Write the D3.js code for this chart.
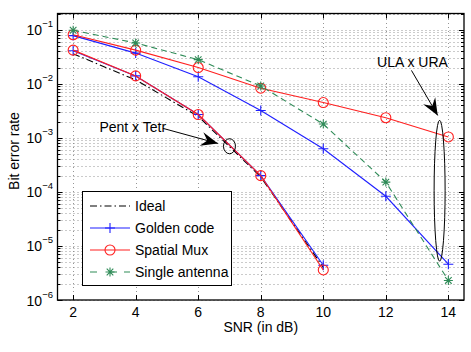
<!DOCTYPE html>
<html>
<head>
<meta charset="utf-8">
<script src="https://cdn.jsdelivr.net/npm/d3@7"></script>
<style>
  body { margin: 0; background: #fff; }
  text { font-family: "Liberation Sans", Arial, sans-serif; fill: #000; }
</style>
</head>
<body>
<svg id="chart"></svg>
<script>
// Chart data
const snr = [2, 4, 6, 8, 10, 12, 14];
const idealBer = [0.036, 0.0118, 0.0025, 0.00019, 4.0e-6];
const goldenUla = [0.078, 0.037, 0.0135, 0.0032, 0.00063, 8.3e-5, 4.6e-6];
const goldenPent = [0.041, 0.014, 0.0027, 0.0002, 4.4e-6];
const muxUla = [0.081, 0.042, 0.020, 0.0083, 0.0045, 0.00236, 0.00104];
const muxPent = [0.042, 0.014, 0.0027, 0.0002, 3.6e-6];
const singleBer = [0.098, 0.057, 0.028, 0.0091, 0.0018, 0.000152, 2.3e-6];

const xTicks = [2, 4, 6, 8, 10, 12, 14];
const yExponents = [-1, -2, -3, -4, -5, -6];
const legendLabels = ["Ideal", "Golden code", "Spatial Mux", "Single antenna"];

// Annotations in data units: ellipse centres, arrow start/tip, label anchor
const pentNote = {text: "Pent x Tetr", tx: 2.84, ty: 1.56e-3, ax0: 4.87, ay0: 1.5e-3, ax1: 6.63, ay1: 7.9e-4, ex: 7.0, ey: 7e-4};
const ulaNote = {text: "ULA x URA", tx: 11.72, ty: 0.0249, ax0: 12.82, ay0: 0.0177, ax1: 13.66, ay1: 0.0026, ex: 13.72, ey: 1.05e-4};

const width = 471, height = 352,
  margin = {top: 13.5, bottom: 52, left: 57.5, right: 7};

const svg = d3.select("#chart").attr("width", width).attr("height", height);

const x = d3.scaleLinear().domain([1.5, 14.5]).range([margin.left, width - margin.right]);
const y = d3.scaleLog().domain([1e-6, 0.2]).range([height - margin.bottom, margin.top]);

const x0 = margin.left, x1 = width - margin.right, y0 = height - margin.bottom, y1 = margin.top;

// Grid
const minorY = [];
yExponents.forEach((e) => { for (let k = 1; k <= 9; k++) { const v = k * Math.pow(10, e); if (v <= 0.2) minorY.push(v); } });
minorY.push(2e-1);
const grid = svg.append("g").attr("stroke", "#8a8a8a").attr("stroke-width", 0.9).attr("stroke-dasharray", "1,3");
grid.selectAll(".gy").data(minorY).enter().append("line")
  .attr("x1", x0).attr("x2", x1).attr("y1", (d) => Math.round(y(d)) + 0.5).attr("y2", (d) => Math.round(y(d)) + 0.5);
grid.selectAll(".gx").data(xTicks).enter().append("line")
  .attr("y1", y0).attr("y2", y1).attr("x1", (d) => Math.round(x(d)) + 0.5).attr("x2", (d) => Math.round(x(d)) + 0.5);

// Tick marks on all four sides (inside)
const ticks = svg.append("g").attr("stroke", "#000").attr("stroke-width", 1);
xTicks.forEach((t) => {
  const px = Math.round(x(t)) + 0.5;
  ticks.append("line").attr("x1", px).attr("x2", px).attr("y1", y0).attr("y2", y0 - 5);
  ticks.append("line").attr("x1", px).attr("x2", px).attr("y1", y1).attr("y2", y1 + 5);
});
minorY.forEach((v) => {
  const py = Math.round(y(v)) + 0.5;
  const major = Math.abs(Math.log10(v) - Math.round(Math.log10(v))) < 1e-9;
  const len = major ? 5 : 3;
  ticks.append("line").attr("x1", x0).attr("x2", x0 + len).attr("y1", py).attr("y2", py);
  ticks.append("line").attr("x1", x1).attr("x2", x1 - len).attr("y1", py).attr("y2", py);
});

// Frame
svg.append("rect").attr("x", x0).attr("y", y1).attr("width", x1 - x0).attr("height", y0 - y1)
  .attr("fill", "none").attr("stroke", "#000").attr("stroke-width", 1.3);

// Tick labels
svg.append("g").selectAll("text").data(xTicks).enter().append("text")
  .attr("x", (d) => x(d)).attr("y", y0 + 16.5).attr("text-anchor", "middle")
  .attr("font-size", 14).text((d) => d);

const yl = svg.append("g").selectAll("text").data(yExponents).enter().append("text")
  .attr("x", 53).attr("y", (d) => y(Math.pow(10, d)) + 5.5).attr("text-anchor", "end")
  .attr("font-size", 14);
yl.append("tspan").text("10");
yl.append("tspan").attr("font-size", 9.5).attr("dy", -8).text((d) => "\u2212" + Math.abs(d));

// Axis titles
svg.append("text").attr("x", (x0 + x1) / 2).attr("y", 332).attr("text-anchor", "middle")
  .attr("font-size", 14).text("SNR (in dB)");
svg.append("text").attr("transform", `translate(19, 151) rotate(-90)`)
  .attr("text-anchor", "middle").attr("font-size", 14).text("Bit error rate");

// Series
const plot = svg.append("g");
const line = d3.line().x((d) => x(d[0])).y((d) => y(d[1]));
const pairs = (vals) => vals.map((v, i) => [snr[i], v]);

const styles = {
  ideal: {color: "#000", dash: "7,3,1.5,3", marker: null},
  golden: {color: "#1f1fff", dash: null, marker: "plus"},
  mux: {color: "#ff2020", dash: null, marker: "circle"},
  single: {color: "#2e8b57", dash: "6,4", marker: "star"}
};

function drawMarker(g, kind, color, cx, cy) {
  if (kind === "plus") {
    g.append("path").attr("d", `M${cx - 5},${cy}H${cx + 5}M${cx},${cy - 5}V${cy + 5}`)
      .attr("stroke", color).attr("stroke-width", 1.1).attr("fill", "none");
  } else if (kind === "circle") {
    g.append("circle").attr("cx", cx).attr("cy", cy).attr("r", 5)
      .attr("stroke", color).attr("stroke-width", 1.1).attr("fill", "none");
  } else if (kind === "star") {
    const r = 4.5, rd = 3.3;
    g.append("path").attr("d",
      `M${cx - r},${cy}H${cx + r}M${cx},${cy - r}V${cy + r}` +
      `M${cx - rd},${cy - rd}L${cx + rd},${cy + rd}M${cx - rd},${cy + rd}L${cx + rd},${cy - rd}`)
      .attr("stroke", color).attr("stroke-width", 1.1).attr("fill", "none");
  }
}

function drawSeries(data, st) {
  plot.append("path").datum(data).attr("d", line).attr("fill", "none")
    .attr("stroke", st.color).attr("stroke-width", 1.1)
    .attr("stroke-dasharray", st.dash);
  if (st.marker) data.forEach((d) => drawMarker(plot, st.marker, st.color, x(d[0]), y(d[1])));
}

drawSeries(pairs(idealBer), styles.ideal);
drawSeries(pairs(goldenUla), styles.golden);
drawSeries(pairs(goldenPent), styles.golden);
drawSeries(pairs(muxUla), styles.mux);
drawSeries(pairs(muxPent), styles.mux);
drawSeries(pairs(singleBer), styles.single);

// Annotations
function arrowHead(g, ax, ay, bx, by) {
  const ang = Math.atan2(by - ay, bx - ax);
  const L = 17, W = 7, notch = 11;
  const pt = (dl, dw) => [bx - dl * Math.cos(ang) - dw * Math.sin(ang), by - dl * Math.sin(ang) + dw * Math.cos(ang)];
  const p = [[bx, by], pt(L, W), pt(notch, 0), pt(L, -W)];
  g.append("path").attr("d", "M" + p.map((q) => q.join(",")).join("L") + "Z").attr("fill", "#000");
}
function drawNote(n, rx, ry) {
  const g = svg.append("g");
  g.append("ellipse").attr("cx", x(n.ex)).attr("cy", y(n.ey)).attr("rx", rx).attr("ry", ry)
    .attr("fill", "none").attr("stroke", "#000").attr("stroke-width", 1);
  g.append("line").attr("x1", x(n.ax0)).attr("y1", y(n.ay0)).attr("x2", x(n.ax1)).attr("y2", y(n.ay1))
    .attr("stroke", "#000").attr("stroke-width", 1);
  arrowHead(g, x(n.ax0), y(n.ay0), x(n.ax1), y(n.ay1));
  g.append("text").attr("x", x(n.tx)).attr("y", y(n.ty) + 5).attr("font-size", 14).text(n.text);
}
drawNote(pentNote, 6, 7.5);
drawNote(ulaNote, 5.5, 70.5);

// Legend
const lg = svg.append("g");
lg.append("rect").attr("x", 82.5).attr("y", 191.5).attr("width", 149).attr("height", 94)
  .attr("fill", "#fff").attr("stroke", "#000").attr("stroke-width", 1);
const legendStyles = [styles.ideal, styles.golden, styles.mux, styles.single];
legendLabels.forEach((lab, i) => {
  const ly = 206 + i * 22;
  const st = legendStyles[i];
  lg.append("line").attr("x1", 90).attr("x2", 130).attr("y1", ly).attr("y2", ly)
    .attr("stroke", st.color).attr("stroke-width", 1.1).attr("stroke-dasharray", st.dash === "6,4" ? "7,13,7" : st.dash);
  if (st.marker) drawMarker(lg, st.marker, st.color, 110, ly);
  lg.append("text").attr("x", 135).attr("y", ly + 5).attr("font-size", 14).text(lab);
});
</script>
</body>
</html>
